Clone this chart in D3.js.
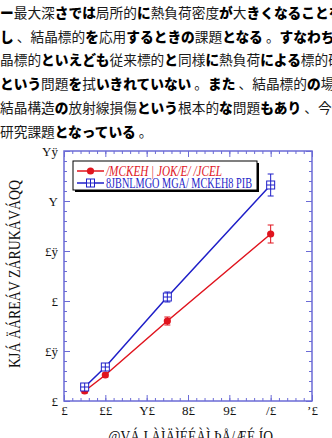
<!DOCTYPE html>
<html>
<head>
<meta charset="utf-8">
<script src="https://cdn.jsdelivr.net/npm/d3@7"></script>
<style>
  body { margin: 0; background: #fff; }
  svg { display: block; }
  .jp { font-family: "Noto Sans CJK JP", sans-serif; font-size: 13.7px; fill: #1a1a1a; }
  .kana { font-weight: 900; fill: #000; }
  .axis text { font-family: "Liberation Serif", serif; font-size: 13px; fill: #111; }
  .axis line { stroke: #6b6bd6; }
  .axis path { display: none; }
  .title { font-family: "Liberation Serif", serif; font-size: 16px; fill: #111; }
</style>
</head>
<body>
<script>

  // text above the figure, one entry per line
  var paragraph = [
    "ー最大深さでは局所的に熱負荷密度が大きくなることを",
    "し 、結晶標的を応用するときの課題となる 。すなわち",
    "晶標的といえども従来標的と同様に熱負荷による標的破",
    "という問題を拭いきれていない 。また 、結晶標的の場合",
    "結晶構造の放射線損傷という根本的な問題もあり 、今後",
    "研究課題となっている 。"
  ];

  var xTicks = [0, 10, 20, 30, 40, 50, 60];
  var xTickLabels = ["£", "££", "Y£", "8£", "9£", "/£", "ʼ£"];
  var yTicks = [0, 0.5, 1, 1.5, 2, 2.5];
  var yTickLabels = ["£", "£ÿ", "£", "£ÿ", "Y", "Yÿ"];

  var doses = [5, 10, 25, 50];
  var redValues = [0.10, 0.26, 0.80, 1.67];
  var redErrors = [0.02, 0.02, 0.04, 0.09];
  var blueValues = [0.14, 0.34, 1.04, 2.16];
  var blueErrors = [0.02, 0.02, 0.05, 0.11];

  var seriesNames = ["/MCKEH | JOK/E/ /JCEL", "8JBNLMGO MGA/ MCKEH8 PIB"];
  var xTitle = "@VÁ I ÀÌÄÌÉÉÀÌ ÞÅ/ÆÉ ÍQ";
  var yTitle = "KJÁ ÄÁREÁV ZÁRUKÁVÁQQ";

  var W = 332, H = 438;
  var pL = 64, pR = 312, pT = 151, pB = 401;
  var axisColor = "#6b6bd6", red = "#e0141e", blue = "#1f1fc8";

  var svg = d3.select("body").append("svg")
      .attr("width", W)
      .attr("height", H);

  // paragraph, kana runs in bold
  paragraph.forEach(function (line, i) {
    var t = svg.append("text")
        .attr("class", "jp")
        .attr("x", 0)
        .attr("y", 18 + i * 23.7);
    line.split(/([\u3040-\u30ff]+)/).forEach(function (part) {
      if (!part) return;
      t.append("tspan")
          .attr("class", /[\u3040-\u30ff]/.test(part) ? "kana" : null)
          .text(part);
    });
  });

  var x = d3.scaleLinear().domain([0, 60]).range([pL, pR]);
  var y = d3.scaleLinear().domain([0, 2.5]).range([pB, pT]);

  var minorX = d3.range(0, 61, 2), minorY = d3.range(0, 2.51, 0.1);

  function addAxis(axis, tr) {
    svg.append("g")
        .attr("class", "axis")
        .attr("transform", tr)
        .call(axis);
  }

  // minor ticks on all four sides
  addAxis(d3.axisBottom(x).tickValues(minorX).tickSize(-3).tickFormat(""), "translate(0," + pB + ")");
  addAxis(d3.axisTop(x).tickValues(minorX).tickSize(-3).tickFormat(""), "translate(0," + pT + ")");
  addAxis(d3.axisLeft(y).tickValues(minorY).tickSize(-3).tickFormat(""), "translate(" + pL + ",0)");
  addAxis(d3.axisRight(y).tickValues(minorY).tickSize(-3).tickFormat(""), "translate(" + pR + ",0)");

  // major ticks
  addAxis(d3.axisBottom(x).tickValues(xTicks).tickSize(-6).tickPadding(5)
      .tickFormat(function (d, i) { return xTickLabels[i]; }), "translate(0," + pB + ")");
  addAxis(d3.axisTop(x).tickValues(xTicks).tickSize(-6).tickFormat(""), "translate(0," + pT + ")");
  addAxis(d3.axisLeft(y).tickValues(yTicks).tickSize(-6).tickPadding(6)
      .tickFormat(function (d, i) { return yTickLabels[i]; }), "translate(" + pL + ",0)");
  addAxis(d3.axisRight(y).tickValues(yTicks).tickSize(-6).tickFormat(""), "translate(" + pR + ",0)");

  svg.append("rect")
      .attr("x", pL)
      .attr("y", pT)
      .attr("width", pR - pL)
      .attr("height", pB - pT)
      .attr("fill", "none")
      .attr("stroke", axisColor)
      .attr("stroke-width", 1.5);

  // series
  var line = d3.line()
      .x(function (d) { return x(d[0]); })
      .y(function (d) { return y(d[1]); });

  function drawSeries(values, errors, color, marker) {
    var pts = doses.map(function (d, i) { return [d, values[i], errors[i]]; });
    var g = svg.append("g");

    g.append("path")
        .datum(pts)
        .attr("d", line)
        .attr("fill", "none")
        .attr("stroke", color)
        .attr("stroke-width", 1.5);

    var bars = g.selectAll("g.err").data(pts).enter().append("g")
        .attr("stroke", color)
        .attr("stroke-width", 1);
    bars.append("line")
        .attr("x1", function (d) { return x(d[0]); })
        .attr("x2", function (d) { return x(d[0]); })
        .attr("y1", function (d) { return y(d[1] - d[2]); })
        .attr("y2", function (d) { return y(d[1] + d[2]); });
    [-1, 1].forEach(function (s) {
      bars.append("line")
          .attr("x1", function (d) { return x(d[0]) - 3; })
          .attr("x2", function (d) { return x(d[0]) + 3; })
          .attr("y1", function (d) { return y(d[1] + s * d[2]); })
          .attr("y2", function (d) { return y(d[1] + s * d[2]); });
    });

    pts.forEach(function (d) { marker(g, x(d[0]), y(d[1]), color); });
  }

  function circleMarker(g, cx, cy, color) {
    g.append("circle")
        .attr("cx", cx)
        .attr("cy", cy)
        .attr("r", 3.6)
        .attr("fill", color);
  }

  function boxMarker(g, cx, cy, color) {
    g.append("rect")
        .attr("x", cx - 4)
        .attr("y", cy - 4)
        .attr("width", 8)
        .attr("height", 8)
        .attr("fill", "#fff")
        .attr("stroke", color)
        .attr("stroke-width", 1);
    g.append("path")
        .attr("d", "M" + (cx - 4) + "," + cy + "H" + (cx + 4) + "M" + cx + "," + (cy - 4) + "V" + (cy + 4))
        .attr("stroke", color)
        .attr("stroke-width", 1);
  }

  drawSeries(redValues, redErrors, red, circleMarker);
  drawSeries(blueValues, blueErrors, blue, boxMarker);

  // legend
  var lg = svg.append("g");
  lg.append("rect")
      .attr("x", 75).attr("y", 163)
      .attr("width", 184).attr("height", 29)
      .attr("fill", "#000");
  lg.append("rect")
      .attr("x", 73).attr("y", 161)
      .attr("width", 184).attr("height", 29)
      .attr("fill", "#fff")
      .attr("stroke", "#000")
      .attr("stroke-width", 1);

  [[red, circleMarker, 171, 116, "italic"], [blue, boxMarker, 183, 146, "normal"]].forEach(function (e, i) {
    lg.append("line")
        .attr("x1", 77).attr("x2", 104)
        .attr("y1", e[2]).attr("y2", e[2])
        .attr("stroke", e[0])
        .attr("stroke-width", 1.5);
    e[1](lg, 90.5, e[2], e[0]);
    lg.append("text")
        .attr("class", "title")
        .attr("x", 106)
        .attr("y", e[2] + 5)
        .style("fill", e[0])
        .style("font-size", "14px")
        .style("font-style", e[4])
        .attr("textLength", e[3])
        .attr("lengthAdjust", "spacingAndGlyphs")
        .text(seriesNames[i]);
  });

  // axis titles
  svg.append("text")
      .attr("class", "title")
      .attr("x", 108)
      .attr("y", 442)
      .attr("textLength", 165)
      .attr("lengthAdjust", "spacingAndGlyphs")
      .text(xTitle);

  svg.append("text")
      .attr("class", "title")
      .attr("transform", "translate(20,368) rotate(-90)")
      .attr("textLength", 188)
      .attr("lengthAdjust", "spacingAndGlyphs")
      .text(yTitle);

</script>
</body>
</html>
